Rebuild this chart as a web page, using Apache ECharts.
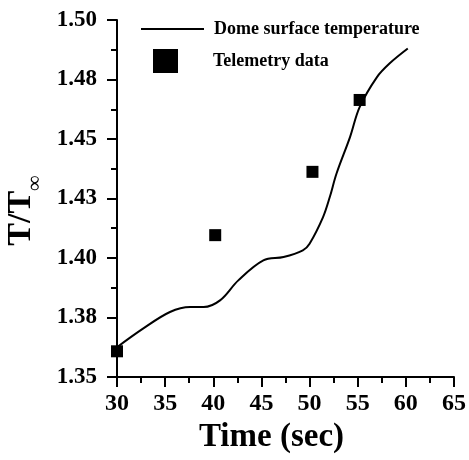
<!DOCTYPE html>
<html>
<head>
<meta charset="utf-8">
<style>
  html, body { margin: 0; padding: 0; background: #fff; }
  #chart { width: 469px; height: 460px; }
</style>
<script src="https://cdn.jsdelivr.net/npm/echarts@6/dist/echarts.min.js"></script>
</head>
<body>
<div id="chart"></div>
<script>
// Simulated dome surface temperature ratio over time
const curveTime  = [30, 32.7, 35.5, 37.6, 39.0, 40.7, 42.6, 45.2, 47.3, 49.3, 50.0, 51.4, 52.1, 52.8, 54.2, 55.2, 57.0, 58.3, 60.2];
const curveRatio = [1.3625, 1.3703, 1.3773, 1.3794, 1.3794, 1.3822, 1.3906, 1.3990, 1.4004, 1.4032, 1.4060, 1.4172, 1.4256, 1.4355, 1.4508, 1.4634, 1.4760, 1.4817, 1.4880];

// Flight telemetry measurements
const telemetryTime  = [30, 40.2, 50.3, 55.2];
const telemetryRatio = [1.3608, 1.4096, 1.4362, 1.4664];

// Axis ticks
const xTicks = [30, 35, 40, 45, 50, 55, 60, 65];
const yTickLabels = ['1.35', '1.38', '1.40', '1.43', '1.45', '1.48', '1.50'];
const yMin = 1.35, yMax = 1.50, yStep = 0.025;

const serif = "'Liberation Serif', 'Times New Roman', serif";

const chart = echarts.init(document.getElementById('chart'), null, { renderer: 'canvas' });

const axisCommon = {
  axisLine: { show: true, lineStyle: { color: '#000', width: 2 } },
  axisTick: { show: true, inside: false, length: 10, lineStyle: { color: '#000', width: 2 } },
  minorTick: { show: true, splitNumber: 2, length: 6, lineStyle: { color: '#000', width: 2 } },
  splitLine: { show: false },
  minorSplitLine: { show: false }
};

chart.setOption({
  animation: false,
  backgroundColor: '#fff',
  grid: { left: 117, right: 15, top: 20, bottom: 83, containLabel: false, outerBoundsMode: 'none' },
  legend: [
    {
      data: [{ name: 'Dome surface temperature', itemStyle: { opacity: 0 } }],
      left: 140, top: 20, padding: 0,
      itemWidth: 63, itemHeight: 14,
      lineStyle: { color: '#000', width: 2 },
      textStyle: { fontFamily: serif, fontWeight: 'bold', fontSize: 18, color: '#000', padding: [0, 0, 0, 5] }
    },
    {
      data: [{ name: 'Telemetry data', icon: 'rect', itemStyle: { opacity: 1, color: '#000' } }],
      left: 153, top: 49, padding: 0,
      itemWidth: 25, itemHeight: 24,
      textStyle: { fontFamily: serif, fontWeight: 'bold', fontSize: 18, color: '#000', padding: [0, 0, 0, 30] }
    }
  ],
  xAxis: Object.assign({
    type: 'value',
    min: xTicks[0], max: xTicks[xTicks.length - 1], interval: 5,
    name: 'Time (sec)',
    nameLocation: 'middle',
    nameGap: 42,
    nameTextStyle: { fontFamily: serif, fontWeight: 'bold', fontSize: 33, color: '#000', padding: [0, 28, 0, 0] },
    axisLabel: { margin: 15, fontFamily: serif, fontWeight: 'bold', fontSize: 24, color: '#000' }
  }, axisCommon),
  yAxis: Object.assign({
    type: 'value',
    min: yMin, max: yMax, interval: yStep,
    name: '{a|T/T}{b|∞}',
    nameLocation: 'middle',
    nameRotate: 90,
    nameGap: 68,
    nameTextStyle: {
      padding: [0, 24, 0, 0],
      rich: {
        a: { fontFamily: serif, fontWeight: 'bold', fontSize: 34, color: '#000', lineHeight: 36, verticalAlign: 'top' },
        b: { fontFamily: serif, fontSize: 22, color: '#000', lineHeight: 42, verticalAlign: 'bottom' }
      }
    },
    axisLabel: {
      margin: 20, fontFamily: serif, fontWeight: 'bold', fontSize: 23, color: '#000',
      formatter: v => yTickLabels[Math.round((v - yMin) / yStep)]
    }
  }, axisCommon),
  series: [
    {
      name: 'Dome surface temperature',
      type: 'line',
      data: curveTime.map((t, i) => [t, curveRatio[i]]),
      smooth: 0.35,
      symbol: 'none',
      lineStyle: { color: '#000', width: 2 },
      itemStyle: { color: '#000' },
      z: 2
    },
    {
      name: 'Telemetry data',
      type: 'scatter',
      data: telemetryTime.map((t, i) => [t, telemetryRatio[i]]),
      symbol: 'rect',
      symbolSize: 12,
      itemStyle: { color: '#000', opacity: 1 },
      z: 3
    }
  ]
});
</script>
</body>
</html>
